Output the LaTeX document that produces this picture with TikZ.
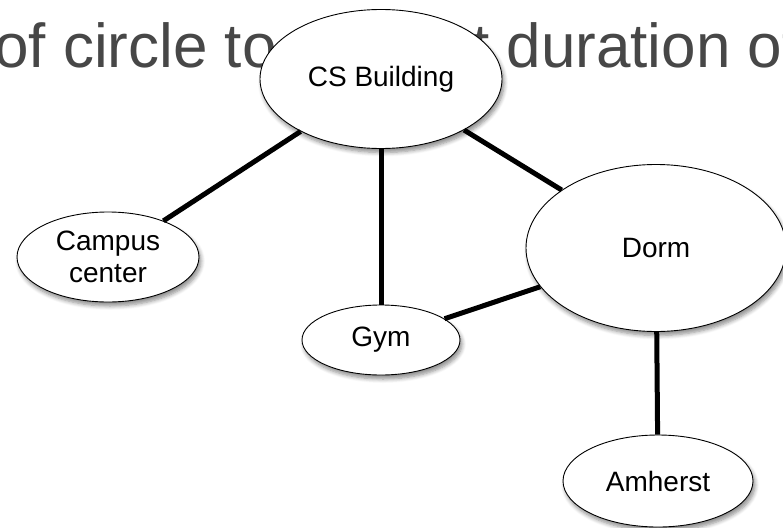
\documentclass[tikz,border=0pt]{standalone}
\usepackage{fontspec}
\setmainfont{Liberation Sans}
\usetikzlibrary{shapes.geometric,shadows.blur}
\definecolor{bgtext}{HTML}{474747}
\tikzset{
  place/.style={ellipse, draw=black, line width=0.9pt, fill=white, inner sep=0pt,
    align=center, font=\fontsize{28}{32}\selectfont,
    blur shadow={shadow xshift=2pt, shadow yshift=-4pt, shadow blur radius=4pt, shadow blur steps=6, shadow opacity=45}},
  road/.style={line width=5pt, black},
  backtext/.style={inner sep=0pt, anchor=base west, text=bgtext, font=\fontsize{62}{70}\selectfont}
}
\begin{document}
\begin{tikzpicture}[x=1pt,y=-1pt]
\useasboundingbox (0,0) rectangle (783,527);
\node[backtext] (t1) at (-6,67) {of circle to};
\node[backtext] (t2) at (472,67) {t duration of};
\node[place, minimum width=242pt, minimum height=139pt] (cs) at (381,79) {CS Building};
\node[place, minimum width=182pt, minimum height=90pt] (campus) at (108,257) {Campus\\center};
\node[place, minimum width=158pt, minimum height=70pt] (gym) at (381,340) {Gym};
\node[place, minimum width=260pt, minimum height=167pt] (dorm) at (656,248) {Dorm};
\node[place, minimum width=190pt, minimum height=92pt] (amherst) at (658,481) {Amherst};
\draw[road] (cs) -- (campus);
\draw[road] (cs) -- (gym);
\draw[road] (cs) -- (dorm);
\draw[road] (gym) -- (dorm);
\draw[road] (dorm) -- (amherst);
\end{tikzpicture}
\end{document}
